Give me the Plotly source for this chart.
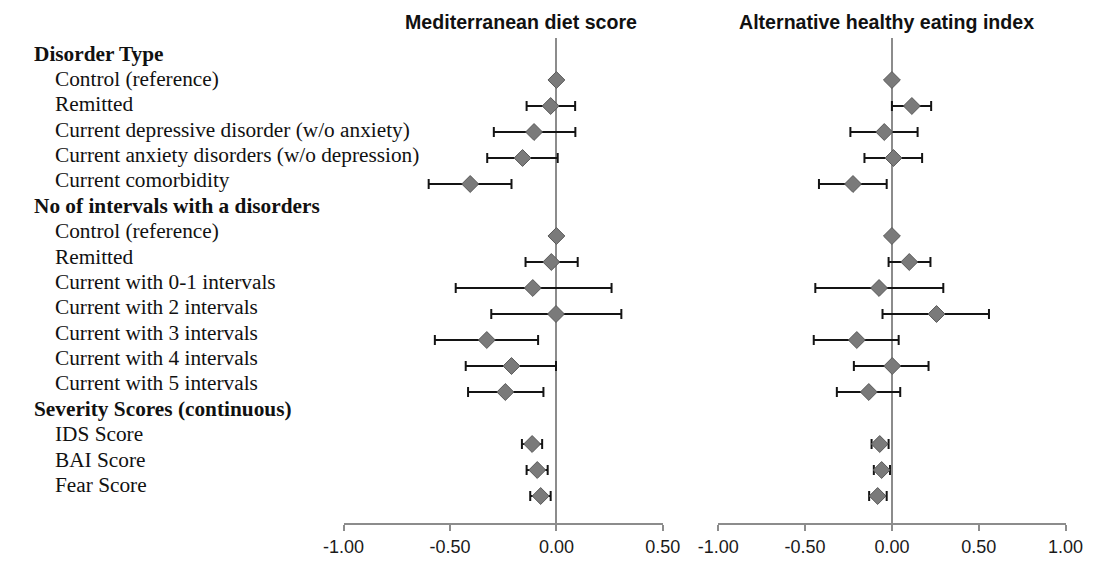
import plotly.graph_objects as go

# ---- data ----
row_labels = [
    "Disorder Type",
    "Control (reference)",
    "Remitted",
    "Current depressive disorder (w/o anxiety)",
    "Current anxiety disorders (w/o depression)",
    "Current comorbidity",
    "No of intervals with a disorders",
    "Control (reference)",
    "Remitted",
    "Current with 0-1 intervals",
    "Current with 2 intervals",
    "Current with 3 intervals",
    "Current with 4 intervals",
    "Current with 5 intervals",
    "Severity Scores (continuous)",
    "IDS Score",
    "BAI Score",
    "Fear Score",
]
is_header = [True, False, False, False, False, False, True, False, False, False,
             False, False, False, False, True, False, False, False]

panel_titles = ["Mediterranean diet score", "Alternative healthy eating index"]

med_est = [None, 0.0, -0.027, -0.105, -0.159, -0.405, None, 0.0, -0.024, -0.111,
           -0.002, -0.327, -0.211, -0.240, None, -0.114, -0.090, -0.074]
med_lo = [None, None, -0.140, -0.294, -0.325, -0.600, None, None, -0.145, -0.473,
          -0.306, -0.571, -0.426, -0.415, None, -0.162, -0.140, -0.123]
med_hi = [None, None, 0.088, 0.089, 0.006, -0.211, None, None, 0.100, 0.259,
          0.305, -0.086, -0.002, -0.061, None, -0.067, -0.041, -0.027]

ahei_est = [None, 0.0, 0.115, -0.044, 0.009, -0.224, None, 0.0, 0.100, -0.074,
            0.257, -0.202, 0.002, -0.133, None, -0.070, -0.059, -0.082]
ahei_lo = [None, None, 0.000, -0.239, -0.158, -0.420, None, None, -0.019, -0.441,
           -0.054, -0.450, -0.219, -0.317, None, -0.117, -0.104, -0.131]
ahei_hi = [None, None, 0.226, 0.148, 0.174, -0.030, None, None, 0.222, 0.296,
           0.559, 0.039, 0.211, 0.048, None, -0.019, -0.011, -0.030]

med_ticks = [-1.0, -0.5, 0.0, 0.5]
ahei_ticks = [-1.0, -0.5, 0.0, 0.5, 1.0]

# ---- figure ----
W, H = 1107, 564
fig = go.Figure()

MARKER_FILL = "#7a7a7a"
MARKER_LINE = "#5a5a5a"
AXIS_GRAY = "#8c8c8c"


def add_panel(est, lo, hi, xa, ya):
    rows_ci = [i for i in range(len(est)) if est[i] is not None and lo[i] is not None]
    fig.add_trace(go.Scatter(
        x=[est[i] for i in rows_ci],
        y=rows_ci,
        mode="markers",
        marker=dict(size=1, opacity=0),
        error_x=dict(type="data", symmetric=False,
                     array=[hi[i] - est[i] for i in rows_ci],
                     arrayminus=[est[i] - lo[i] for i in rows_ci],
                     color="#141414", thickness=2, width=5),
        xaxis=xa, yaxis=ya, showlegend=False, hoverinfo="skip",
    ))
    rows_pt = [i for i in range(len(est)) if est[i] is not None]
    fig.add_trace(go.Scatter(
        x=[est[i] for i in rows_pt],
        y=rows_pt,
        mode="markers",
        marker=dict(symbol="diamond", size=13, color=MARKER_FILL,
                    line=dict(color=MARKER_LINE, width=1)),
        xaxis=xa, yaxis=ya, showlegend=False,
    ))


add_panel(med_est, med_lo, med_hi, "x", "y")
add_panel(ahei_est, ahei_lo, ahei_hi, "x2", "y2")

y_bottom_px, y_top_px = 523, 38
row0_px, row_step = 54, 26
y_range = [(y_bottom_px - row0_px) / row_step, (y_top_px - row0_px) / row_step]
y_dom = [(H - y_bottom_px) / H, (H - y_top_px) / H]

tick_font = dict(family="Liberation Sans, Arial, sans-serif", size=18, color="#1a1a1a")

common_x = dict(
    showgrid=False, zeroline=True, zerolinecolor=AXIS_GRAY, zerolinewidth=2,
    showline=True, linecolor=AXIS_GRAY, linewidth=2,
    ticks="outside", ticklen=6, tickwidth=2, tickcolor=AXIS_GRAY,
    tickfont=tick_font, fixedrange=True,
)
common_y = dict(showgrid=False, zeroline=False, showline=False, showticklabels=False,
                ticks="", range=y_range, domain=y_dom, fixedrange=True)

fig.update_layout(
    width=W, height=H,
    margin=dict(l=0, r=0, t=0, b=0),
    paper_bgcolor="white", plot_bgcolor="white",
    xaxis=dict(domain=[334.3 / W, 665.3 / W], range=[-1.0, 0.5],
               tickvals=med_ticks, ticktext=["%.2f" % v for v in med_ticks],
               anchor="y", **common_x),
    xaxis2=dict(domain=[722.7 / W, 1082.7 / W], range=[-1.0, 1.0],
                tickvals=ahei_ticks, ticktext=["%.2f" % v for v in ahei_ticks],
                anchor="y2", **common_x),
    yaxis=dict(anchor="x", **common_y),
    yaxis2=dict(anchor="x2", **common_y),
)

# panel titles
title_x_px = [518, 897]
for t, xp in zip(panel_titles, title_x_px):
    fig.add_annotation(
        text="<b>" + t + "</b>", xref="paper", yref="paper",
        x=xp / W, y=1 - 22 / H, xanchor="center", yanchor="middle",
        showarrow=False,
        font=dict(family="Liberation Sans, Arial, sans-serif", size=19.6, color="#111"),
    )

# row labels
lab0_px, lab_step = 53.6, 25.375
for i, (lab, hdr) in enumerate(zip(row_labels, is_header)):
    fig.add_annotation(
        text=("<b>" + lab + "</b>") if hdr else lab,
        xref="paper", yref="paper",
        x=(11.5 if hdr else 33.5) / W, y=1 - (lab0_px + lab_step * i) / H,
        xanchor="left", yanchor="middle", showarrow=False,
        font=dict(family="Liberation Serif, Times New Roman, serif", size=21.3, color="#111"),
    )

fig.write_html("out.html",
               config={"displayModeBar": False},
               post_script="document.body.style.margin='0';document.documentElement.style.overflow='hidden';")
